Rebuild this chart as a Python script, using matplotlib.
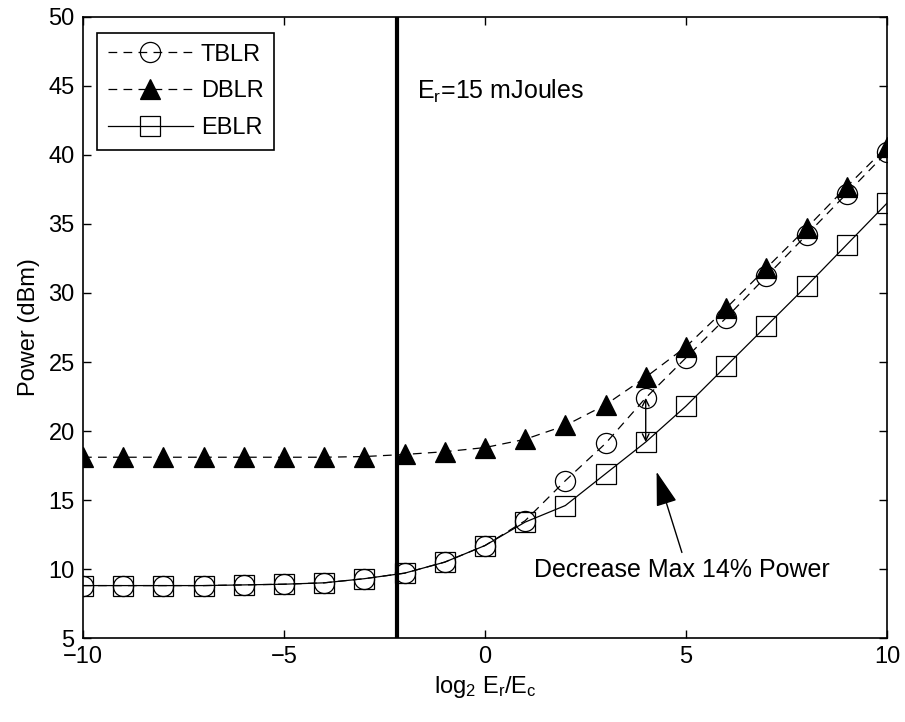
import matplotlib
matplotlib.use("Agg")
import matplotlib.pyplot as plt

plt.rcParams['font.family'] = ['Liberation Sans', 'DejaVu Sans']
plt.rcParams['mathtext.fontset'] = 'custom'
plt.rcParams['mathtext.rm'] = 'Liberation Sans'
plt.rcParams['mathtext.it'] = 'Liberation Sans'

# log2(Er/Ec) steps
x = [-10, -9, -8, -7, -6, -5, -4, -3, -2, -1, 0, 1, 2, 3, 4, 5, 6, 7, 8, 9, 10]

# power in dBm for each scheme
tblr = [8.8, 8.8, 8.8, 8.8, 8.85, 8.9, 9.0, 9.3, 9.7, 10.5, 11.7, 13.5, 16.4, 19.1,
        22.4, 25.3, 28.2, 31.2, 34.2, 37.2, 40.2]
dblr = [18.1, 18.1, 18.1, 18.1, 18.1, 18.1, 18.1, 18.15, 18.3, 18.5, 18.8, 19.4, 20.4, 21.9,
        23.9, 26.1, 28.9, 31.8, 34.7, 37.7, 40.6]
eblr = [8.8, 8.8, 8.8, 8.8, 8.85, 8.9, 9.0, 9.3, 9.7, 10.5, 11.7, 13.4, 14.6, 16.9,
        19.2, 21.8, 24.7, 27.6, 30.5, 33.5, 36.5]

er_line = -2.2  # Er = 15 mJoules
gap_x = 4

fs = 17
fig = plt.figure(figsize=(9.05, 7.22), dpi=100)
ax = fig.add_axes([0.0917, 0.1163, 0.8883, 0.8602])

lw = 0.9
ms = 14.5
ax.plot(x, tblr, color='k', lw=lw, ls=(0, (7, 5)), marker='o', ms=ms,
        mfc='none', mec='k', mew=lw, label='TBLR')
ax.plot(x, dblr, color='k', lw=lw, ls=(0, (7, 5)), marker='^', ms=ms,
        mfc='k', mec='k', mew=lw, label='DBLR')
ax.plot(x, eblr, color='k', lw=lw, ls='-', marker='s', ms=ms,
        mfc='none', mec='k', mew=lw, label='EBLR')

ax.axvline(er_line, color='k', lw=3)
ax.text(-1.7, 44.6, r'$\mathregular{E_r}$=15 mJoules', fontsize=18, va='center')

# gap between TBLR and EBLR at x = 4
i = x.index(gap_x)
ax.annotate('', xy=(gap_x, eblr[i]), xytext=(gap_x, tblr[i]),
            arrowprops=dict(arrowstyle='<->', color='k', lw=1.0,
                            shrinkA=0, shrinkB=0, mutation_scale=12))
ax.annotate('', xy=(4.27, 17.05), xytext=(4.9, 11.2),
            arrowprops=dict(arrowstyle='-|>,head_length=1.8,head_width=0.55', color='k',
                            lw=1.0, shrinkA=0, shrinkB=0, mutation_scale=12))
ax.text(4.9, 9.9, 'Decrease Max 14% Power', fontsize=18, ha='center', va='center')

ax.set_xlim(-10, 10)
ax.set_ylim(5, 50)
ax.set_xticks([-10, -5, 0, 5, 10])
ax.set_xticklabels(['\u221210', '\u22125', '0', '5', '10'])
ax.set_yticks(range(5, 51, 5))
ax.tick_params(direction='in', length=6, width=1, labelsize=fs, top=True, right=True, pad=6)
for s in ax.spines.values():
    s.set_linewidth(1.2)

ax.set_xlabel(r'$\mathregular{log_2\ E_r/E_c}$', fontsize=fs, labelpad=4)
ax.set_ylabel('Power (dBm)', fontsize=fs, labelpad=6)

leg = ax.legend(loc='upper left', bbox_to_anchor=(0.0174, 0.974), borderaxespad=0,
                fontsize=fs, fancybox=False, edgecolor='k', framealpha=1, borderpad=0.45,
                handlelength=3.6, labelspacing=0.62, handletextpad=0.35)
leg.get_frame().set_linewidth(1.2)

fig.savefig('out.png', dpi=100)
